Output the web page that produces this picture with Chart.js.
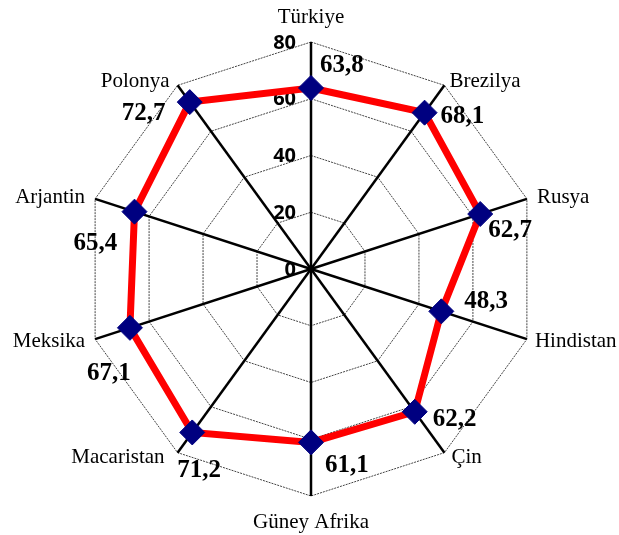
<!DOCTYPE html>
<html>
<head>
<meta charset="utf-8">
<script src="https://cdn.jsdelivr.net/npm/chart.js@4/dist/chart.umd.min.js"></script>
<style>
  html, body { margin: 0; padding: 0; background: #fff; }
  #wrap { width: 619px; height: 535px; position: relative; }
</style>
</head>
<body>
<div id="wrap"><canvas id="radar"></canvas></div>
<script>
// ---------- Dati ----------
const ulkeler = ["Türkiye", "Brezilya", "Rusya", "Hindistan", "Çin",
  "Güney Afrika", "Macaristan", "Meksika", "Arjantin", "Polonya"];
const degerler = [63.8, 68.1, 62.7, 48.3, 62.2, 61.1, 71.2, 67.1, 65.4, 72.7];
const eksenMin = 0;
const eksenMax = 80;
const eksenAdim = 20;

const fmt = (v) => v.toFixed(1).replace(".", ",");

// ---------- Etiketler (plugin) ----------
// offset etichette categorie: [dx, dy baseline, align]
const catOffsets = [
  [0, -19, "center"], [5, 2, "left"], [10, 4, "left"], [8, 8, "left"], [7, 10, "left"],
  [0, 32, "center"], [-13, 10, "right"], [-10, 8, "right"], [-10, 4, "right"], [-8, 2, "right"],
];
// offset valori: [dx sinistra, dy baseline]
const valOffsets = [
  [9, -16], [16, 10], [8, 23], [23, -3], [18, 14],
  [14, 30], [-15, 45], [-43, 52], [-61, 38], [-68, 18],
];

const labelsPlugin = {
  id: "radarLabels",
  beforeDatasetsDraw(chart) {
    const { ctx } = chart;
    const r = chart.scales.r;
    ctx.save();
    // tick a sinistra dell'asse verticale
    ctx.font = "bold 20px 'Open Sans', sans-serif";
    ctx.fillStyle = "#000";
    ctx.textAlign = "right";
    ctx.textBaseline = "middle";
    r.ticks.forEach((t) => {
      const p = r.getPointPositionForValue(0, t.value);
      ctx.fillText(String(t.value), p.x - 15, p.y + 1);
    });
    // nomi categorie
    ctx.font = "21px 'Liberation Serif', 'Times New Roman', serif";
    ctx.textBaseline = "alphabetic";
    chart.data.labels.forEach((lab, i) => {
      const p = r.getPointPositionForValue(i, eksenMax);
      const [dx, dy, al] = catOffsets[i];
      ctx.textAlign = al;
      ctx.fillText(lab, p.x + dx, p.y + dy);
    });
    ctx.restore();
  },
  afterDatasetsDraw(chart) {
    const { ctx } = chart;
    const meta = chart.getDatasetMeta(0);
    ctx.save();
    ctx.font = "bold 25px 'Liberation Serif', 'Times New Roman', serif";
    ctx.fillStyle = "#000";
    ctx.textAlign = "left";
    ctx.textBaseline = "alphabetic";
    meta.data.forEach((pt, i) => {
      const [dx, dy] = valOffsets[i];
      ctx.fillText(fmt(chart.data.datasets[0].data[i]), pt.x + dx, pt.y + dy);
    });
    ctx.restore();
  },
};

// ---------- Grafico ----------
new Chart(document.getElementById("radar"), {
  type: "radar",
  data: {
    labels: ulkeler,
    datasets: [{
      data: degerler,
      borderColor: "#ff0000",
      borderWidth: 7,
      fill: false,
      pointStyle: "rectRot",
      pointRadius: 12.5,
      pointHoverRadius: 12.5,
      pointBackgroundColor: "#000080",
      pointBorderColor: "#000080",
      pointBorderWidth: 1,
    }],
  },
  options: {
    responsive: true,
    maintainAspectRatio: false,
    animation: false,
    layout: { padding: { top: 42, bottom: 39, left: 84, right: 81 } },
    plugins: { legend: { display: false }, tooltip: { enabled: false } },
    scales: {
      r: {
        min: eksenMin,
        max: eksenMax,
        ticks: { stepSize: eksenAdim, display: false },
        pointLabels: { display: false },
        grid: { color: "#444", lineWidth: 1 },
        border: { dash: [2, 1] },
        angleLines: { color: "#000", lineWidth: 2.5 },
      },
    },
  },
  plugins: [labelsPlugin],
});
</script>
</body>
</html>
